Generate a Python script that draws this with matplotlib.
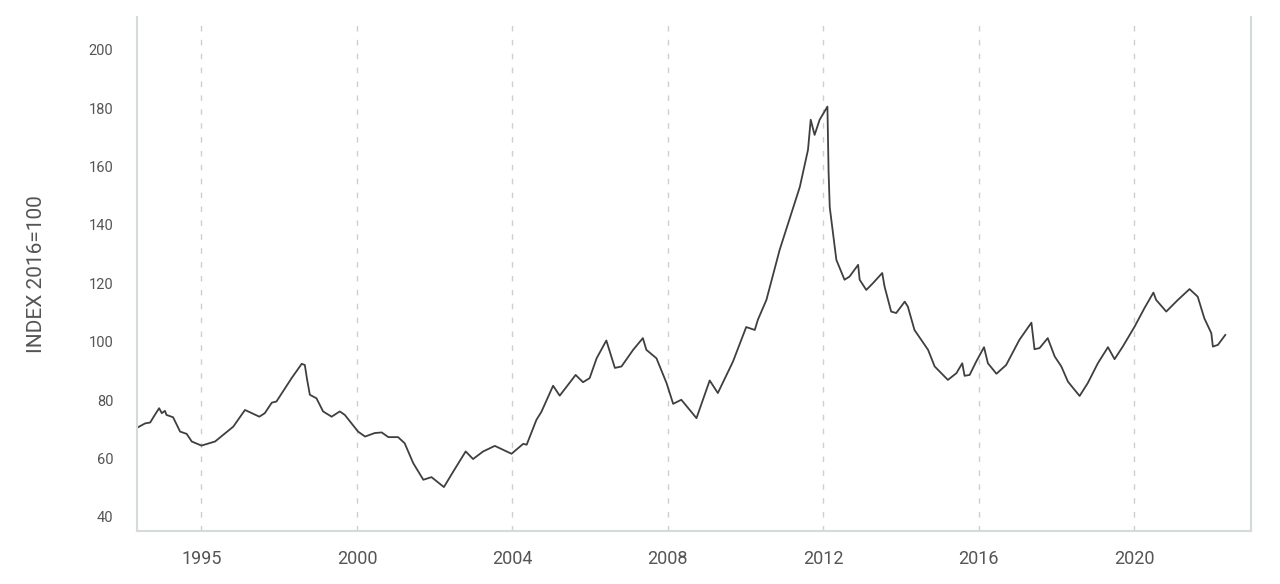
import matplotlib
matplotlib.use('Agg')
import matplotlib.pyplot as plt

# index values (decimal year, index 2016=100)
years = [1994.37, 1994.55, 1994.68, 1994.80, 1994.91, 1994.98, 1995.06, 1995.10, 1995.27,
         1995.45, 1995.62, 1995.75, 1996.00, 1996.35, 1996.82, 1997.12, 1997.49, 1997.63,
         1997.81, 1997.93, 1998.32, 1998.58, 1998.66, 1998.72, 1998.79, 1998.96, 1999.13,
         1999.35, 1999.56, 1999.69, 2000.03, 2000.21, 2000.46, 2000.64, 2000.81, 2001.06,
         2001.23, 2001.45, 2001.71, 2001.92, 2002.24, 2002.48, 2002.80, 2002.99, 2003.25,
         2003.55, 2003.98, 2004.28, 2004.37, 2004.62, 2004.75, 2005.05, 2005.22, 2005.63,
         2005.82, 2005.99, 2006.17, 2006.42, 2006.64, 2006.81, 2007.11, 2007.36, 2007.45,
         2007.71, 2007.97, 2008.14, 2008.35, 2008.74, 2009.08, 2009.29, 2009.68, 2010.02,
         2010.24, 2010.32, 2010.54, 2010.88, 2011.40, 2011.61, 2011.68, 2011.78, 2011.91,
         2012.11, 2012.14, 2012.17, 2012.34, 2012.55, 2012.68, 2012.90, 2012.94, 2013.11,
         2013.28, 2013.52, 2013.58, 2013.75, 2013.88, 2014.10, 2014.18, 2014.35, 2014.70,
         2014.87, 2015.21, 2015.43, 2015.58, 2015.64, 2015.77, 2015.94, 2016.14, 2016.24,
         2016.46, 2016.71, 2017.05, 2017.36, 2017.44, 2017.57, 2017.78, 2017.96, 2018.13,
         2018.30, 2018.60, 2018.81, 2019.07, 2019.33, 2019.50, 2019.71, 2020.01, 2020.27,
         2020.50, 2020.57, 2020.83, 2021.13, 2021.43, 2021.64, 2021.81, 2021.99, 2022.03,
         2022.16, 2022.35]
index = [70.7, 72.0, 72.3, 74.9, 77.2, 75.5, 76.3, 74.9, 74.1,
         69.2, 68.4, 65.8, 64.4, 65.8, 70.9, 76.6, 74.3, 75.5,
         79.1, 79.5, 87.5, 92.4, 92.0, 86.9, 81.8, 80.6, 76.1,
         74.3, 76.1, 74.9, 69.2, 67.5, 68.7, 68.9, 67.3, 67.3,
         65.2, 58.4, 52.7, 53.6, 50.2, 55.5, 62.4, 59.8, 62.4,
         64.3, 61.6, 65.0, 64.7, 73.2, 76.0, 84.9, 81.5, 88.6,
         86.1, 87.5, 94.3, 100.4, 91.0, 91.5, 97.2, 101.2, 97.2,
         94.3, 85.8, 78.7, 80.1, 73.8, 86.7, 82.4, 93.2, 105.0,
         104.0, 107.5, 114.3, 131.4, 153.0, 165.7, 176.0, 170.8, 176.0,
         180.5, 158.0, 146.0, 128.0, 121.2, 122.3, 126.3, 121.2, 117.7,
         120.0, 123.5, 118.9, 110.3, 109.8, 113.7, 112.0, 104.0, 97.2,
         91.5, 86.9, 89.2, 92.6, 88.3, 88.6, 93.2, 98.1, 92.6,
         89.0, 92.0, 100.6, 106.5, 97.4, 97.8, 101.2, 94.9, 91.5,
         86.3, 81.4, 85.8, 92.6, 98.1, 94.0, 98.3, 105.0, 111.5,
         116.8, 114.3, 110.3, 114.3, 118.0, 115.4, 108.0, 102.9, 98.3,
         98.9, 102.3]

tick_pos = [1996, 2000, 2004, 2008, 2012, 2016, 2020]
tick_labels = ['1995', '2000', '2004', '2008', '2012', '2016', '2020']
y_ticks = [40, 60, 80, 100, 120, 140, 160, 180, 200]

plt.rcParams['font.family'] = ['Roboto', 'DejaVu Sans']

fig = plt.figure(figsize=(12.8, 5.84), dpi=100)
ax = fig.add_axes([0.107, 0.091, 0.870, 0.880])

ax.plot(years, index, color='#3f3f3f', lw=1.3, solid_joinstyle='round')

ax.set_xlim(1994.34, 2023.0)
ax.set_ylim(35.2, 211.2)
ax.set_xticks(tick_pos)
ax.set_xticklabels(tick_labels)
ax.set_yticks(y_ticks)

ax.grid(axis='x', color='#cfcfcf', linestyle=(0, (4, 6)), lw=1)
ax.set_axisbelow(True)

ax.tick_params(axis='x', length=0, pad=14, labelsize=13, labelcolor='#555555')
ax.tick_params(axis='y', length=0, pad=17, labelsize=10.5, labelcolor='#555555')

for side in ['left', 'right', 'bottom']:
    ax.spines[side].set_color('#d5dadd')
    ax.spines[side].set_linewidth(1.5)
ax.spines['top'].set_visible(False)

ax.set_ylabel('INDEX 2016=100', fontsize=15, color='#555555')
ax.yaxis.set_label_coords(-0.082, 0.5)

fig.savefig('out.png', dpi=100)
